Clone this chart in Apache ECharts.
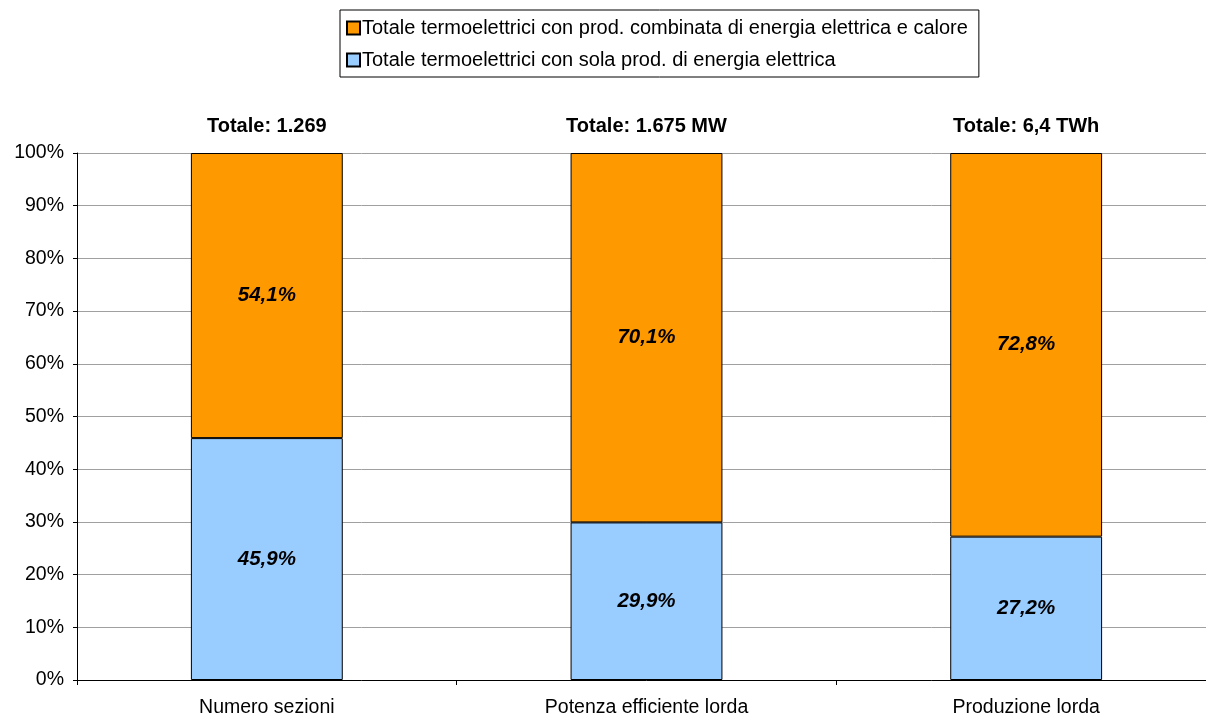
<!DOCTYPE html>
<html>
<head>
<meta charset="utf-8">
<script src="https://cdn.jsdelivr.net/npm/echarts@6/dist/echarts.min.js"></script>
<style>
  html, body { margin: 0; padding: 0; background: #fff; overflow: hidden; }
  #chart { width: 1216px; height: 718px; }
</style>
</head>
<body>
<div id="chart"></div>
<script>
const categories = ['Numero sezioni', 'Potenza efficiente lorda', 'Produzione lorda']
const solaElettrica = [45.9, 29.9, 27.2]
const combinata = [54.1, 70.1, 72.8]
const totali = ['Totale: 1.269', 'Totale: 1.675 MW', 'Totale: 6,4 TWh']
const yTicks = [0, 10, 20, 30, 40, 50, 60, 70, 80, 90, 100]

const nameSola = 'Totale termoelettrici con sola prod. di energia elettrica'
const nameComb = 'Totale termoelettrici con prod. combinata di energia elettrica e calore'

const font = 'Liberation Sans, Arial, sans-serif'
const pct = v => v.toFixed(1).replace('.', ',') + '%'

// il grafico originale è tagliato a destra: il div è più largo della finestra
const chart = echarts.init(document.getElementById('chart'))

const insideLabel = {
  show: true,
  position: 'inside',
  fontFamily: font,
  fontSize: 20.5,
  fontWeight: 'bold',
  fontStyle: 'italic',
  color: '#000',
  formatter: p => pct(p.value)
}

chart.setOption({
  animation: false,
  textStyle: { fontFamily: font },
  legend: {
    orient: 'vertical',
    left: 340,
    top: 10,
    padding: [8, 11, 7, 6],
    itemGap: 12,
    itemWidth: 13,
    itemHeight: 13,
    icon: 'rect',
    borderColor: '#000',
    borderWidth: 1,
    textStyle: { fontFamily: font, fontSize: 20, color: '#000', padding: [0, 0, 0, -3] },
    data: [nameComb, nameSola]
  },
  grid: { left: 77, right: 0, top: 153, bottom: 38 },
  xAxis: {
    type: 'category',
    data: categories,
    axisLine: { lineStyle: { color: '#000', width: 1 } },
    axisTick: { show: true, length: 5, lineStyle: { color: '#000' } },
    axisLabel: { fontFamily: font, fontSize: 19.5, color: '#000', margin: 18 }
  },
  yAxis: {
    type: 'value',
    min: yTicks[0],
    max: yTicks[yTicks.length - 1],
    interval: 10,
    axisLine: { show: true, lineStyle: { color: '#000', width: 1 } },
    axisTick: { show: true, length: 4, lineStyle: { color: '#000' } },
    axisLabel: { fontFamily: font, fontSize: 19.5, color: '#000', margin: 13, formatter: '{value}%' },
    splitLine: { lineStyle: { color: '#a0a0a0', width: 1 } }
  },
  series: [
    {
      name: nameSola,
      type: 'bar',
      stack: 'tot',
      barWidth: '40%',
      data: solaElettrica,
      itemStyle: { color: '#99ccff', borderColor: '#000', borderWidth: 1 },
      label: insideLabel
    },
    {
      name: nameComb,
      type: 'bar',
      stack: 'tot',
      barWidth: '40%',
      data: combinata,
      itemStyle: { color: '#ff9900', borderColor: '#000', borderWidth: 1 },
      label: insideLabel
    },
    {
      name: 'totali',
      type: 'bar',
      stack: 'tot',
      barWidth: '40%',
      data: totali.map(() => 0),
      itemStyle: { color: 'transparent', borderWidth: 0 },
      label: {
        show: true,
        position: 'top',
        distance: 17,
        fontFamily: font,
        fontSize: 20,
        fontWeight: 'bold',
        color: '#000',
        formatter: p => totali[p.dataIndex]
      }
    }
  ]
})
</script>
</body>
</html>
